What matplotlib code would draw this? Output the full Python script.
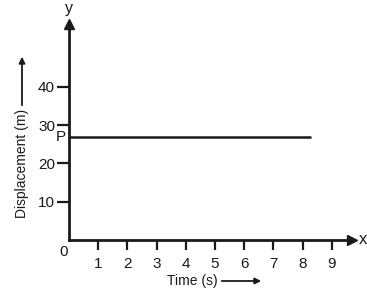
import matplotlib.pyplot as plt

# data
time_s = [0, 8.3]
displacement_m = [27, 27]
x_ticks = [1, 2, 3, 4, 5, 6, 7, 8, 9]
y_ticks = [10, 20, 30, 40]

plt.rcParams['font.family'] = ['Liberation Sans', 'DejaVu Sans']
ink = '#1a1a1a'

fig = plt.figure(figsize=(3.67, 2.93), dpi=100)
ax = fig.add_axes([69 / 367, 53 / 293, 283 / 367, 216 / 293])
ax.set_xlim(0, 9.69)
ax.set_ylim(0, 56.4)

# horizontal displacement line
ax.plot(time_s, displacement_m, color=ink, lw=1.8, solid_capstyle='butt')
ax.text(-0.1, displacement_m[0], 'P', ha='right', va='center', fontsize=11, color=ink)

# axes as arrows
for side in ['top', 'right']:
    ax.spines[side].set_visible(False)
for side in ['left', 'bottom']:
    ax.spines[side].set_linewidth(2)
    ax.spines[side].set_color(ink)
ax.plot(1, 0, '>', color=ink, ms=7, transform=ax.get_yaxis_transform(), clip_on=False)
ax.plot(0, 1, '^', color=ink, ms=7, transform=ax.get_xaxis_transform(), clip_on=False)
ax.annotate('x', xy=(1, 0), xycoords=ax.get_yaxis_transform(), xytext=(5, 0),
            textcoords='offset points', ha='left', va='center', fontsize=12, color=ink)
ax.annotate('y', xy=(0, 1), xycoords=ax.get_xaxis_transform(), xytext=(0, 5.5),
            textcoords='offset points', ha='center', va='bottom', fontsize=11.5, color=ink)

ax.set_xticks(x_ticks)
ax.set_yticks(y_ticks)
ax.tick_params(axis='x', direction='out', length=7, width=1.6, color=ink, pad=5, labelsize=11, labelcolor=ink)
ax.tick_params(axis='y', direction='out', length=9, width=1.6, color=ink, pad=1, labelsize=11, labelcolor=ink)
ax.text(-0.05, -1.2, '0', ha='right', va='top', fontsize=11, color=ink)

# axis titles with arrows
fig.text(192 / 367, 1 - 281 / 293, 'Time (s)', ha='center', va='center', fontsize=10, color=ink)
ax.annotate('', xy=(264, 293 - 281), xytext=(219, 293 - 281), xycoords='figure pixels',
            textcoords='figure pixels', annotation_clip=False,
            arrowprops=dict(arrowstyle='-|>', color=ink, lw=1.3, mutation_scale=9))
fig.text(22 / 367, 1 - 163 / 293, 'Displacement (m)', ha='center', va='center', rotation=90,
         fontsize=10, color=ink)
ax.annotate('', xy=(22, 293 - 54), xytext=(22, 293 - 108), xycoords='figure pixels',
            textcoords='figure pixels', annotation_clip=False,
            arrowprops=dict(arrowstyle='-|>', color=ink, lw=1.3, mutation_scale=9))

fig.savefig('out.png', dpi=100)
